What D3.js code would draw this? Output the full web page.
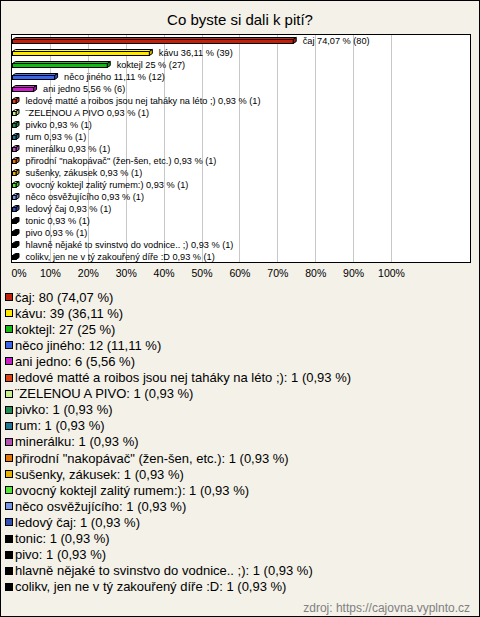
<!DOCTYPE html>
<html><head><meta charset="utf-8">
<script src="https://cdn.jsdelivr.net/npm/d3@7"></script>
<style>html,body{margin:0;padding:0;background:#fff}svg{display:block}</style>
</head><body>
<script>
const title = "Co byste si dali k pití?";
const categories = ["čaj","kávu","koktejl","něco jiného","ani jedno","ledové matté a roibos jsou nej taháky na léto ;)","¨ZELENOU A PIVO","pivko","rum","minerálku","přirodní \"nakopávač\" (žen-šen, etc.)","sušenky, zákusek","ovocný koktejl zalitý rumem:)","něco osvěžujícího","ledový čaj","tonic","pivo","hlavně nějaké to svinstvo do vodnice.. ;)","colikv, jen ne v tý zakouřený díře :D"];
const counts = [80,39,27,12,6,1,1,1,1,1,1,1,1,1,1,1,1,1,1];
const percents = [74.07,36.11,25,11.11,5.56,0.93,0.93,0.93,0.93,0.93,0.93,0.93,0.93,0.93,0.93,0.93,0.93,0.93,0.93];
const colors = ["#c0200c","#ffe800","#14b814","#3c64e6","#c81ec8","#e04010","#c8f08c","#1e8c50","#1e7896","#b450b4","#e67300","#e6b400","#50e632","#7896e6","#3250b4","#000000","#000000","#000000","#000000"];
const xTicks = [0,10,20,30,40,50,60,70,80,90,100];
const source = "zdroj: https://cajovna.vyplnto.cz";

const W = 480, H = 617;
const fmt = v => String(v).replace(".", ",");
const svg = d3.select("body").append("svg").attr("width", W).attr("height", H);
const font = "'Liberation Sans', Arial, sans-serif";

svg.append("rect").attr("x",0.5).attr("y",0.5).attr("width",W-1).attr("height",H-1)
  .attr("fill","#f3f1e8").attr("stroke","#000");

svg.append("text").attr("x",240).attr("y",25).attr("text-anchor","middle")
  .attr("font-family",font).attr("font-size",15).attr("fill","#000").text(title);

const plot = {x0:11.5, y0:34.5, x1:470.5, y1:262.5};
svg.append("rect").attr("x",plot.x0).attr("y",plot.y0).attr("width",plot.x1-plot.x0).attr("height",plot.y1-plot.y0)
  .attr("fill","#fff").attr("stroke","none");

const x = d3.scaleLinear().domain([0,100]).range([12, 391]);
const y = d3.scaleBand().domain(categories).range([35, 263]);

svg.append("g").selectAll("line").data(xTicks.slice(1)).join("line")
  .attr("x1", d => Math.round(x(d))+0.5).attr("x2", d => Math.round(x(d))+0.5)
  .attr("y1", plot.y0).attr("y2", plot.y1).attr("stroke","#c8c8c8");

svg.append("rect").attr("x",plot.x0).attr("y",plot.y0).attr("width",plot.x1-plot.x0).attr("height",plot.y1-plot.y0)
  .attr("fill","none").attr("stroke","#000");

const dx = 3, dy = 2, bh = 4;
const bars = svg.append("g");
categories.forEach((c,i) => {
  const cy = y(c) + y.bandwidth()/2;
  const xa = x(0) + 0.5, xb = x(percents[i]) + 0.5;
  const yf = Math.round(cy) - 1.5;
  const col = d3.color(colors[i]);
  const dark = col.darker(0.6);
  bars.append("path").attr("d", `M${xa},${yf}L${xa+dx},${yf-dy}L${xb+dx},${yf-dy}L${xb},${yf}Z`)
    .attr("fill", col.brighter(0.3)).attr("stroke","#000").attr("stroke-width",1);
  bars.append("path").attr("d", `M${xb},${yf}L${xb+dx},${yf-dy}L${xb+dx},${yf-dy+bh}L${xb},${yf+bh}Z`)
    .attr("fill", dark).attr("stroke","#000").attr("stroke-width",1);
  bars.append("rect").attr("x",xa).attr("y",yf).attr("width",xb-xa).attr("height",bh)
    .attr("fill", col).attr("stroke","#000").attr("stroke-width",1);
  svg.append("text").attr("x", xb + 9.5).attr("y", cy + 3.3)
    .attr("font-family",font).attr("font-size",9.2).attr("fill","#000")
    .text(`${c} ${fmt(percents[i])} % (${counts[i]})`);
});

const xAxis = d3.axisBottom(x).tickValues(xTicks).tickFormat(d => d + "%").tickSize(0).tickPadding(0);
const ax = svg.append("g").attr("transform","translate(0,270)").call(xAxis);
ax.select(".domain").remove();
ax.selectAll("text").attr("font-family",font).attr("font-size",10.5).attr("fill","#000").attr("dy","0.71em")
  .attr("text-anchor", d => d === 0 ? "start" : "middle").attr("dx", d => d === 0 ? -1 : 0);

const lg = svg.append("g");
categories.forEach((c,i) => {
  const cy = 297 + i*16.1;
  lg.append("rect").attr("x",5.5).attr("y",Math.round(cy)-3.5).attr("width",7).attr("height",7)
    .attr("fill",colors[i]).attr("stroke","#000");
  lg.append("text").attr("x",15).attr("y",cy+4.5).attr("font-family",font).attr("font-size",13).attr("fill","#000")
    .text(`${c}: ${counts[i]} (${fmt(percents[i])} %)`);
});

svg.append("text").attr("x",470).attr("y",612).attr("text-anchor","end")
  .attr("font-family",font).attr("font-size",12).attr("fill","#808080").text(source);
</script>
</body></html>
